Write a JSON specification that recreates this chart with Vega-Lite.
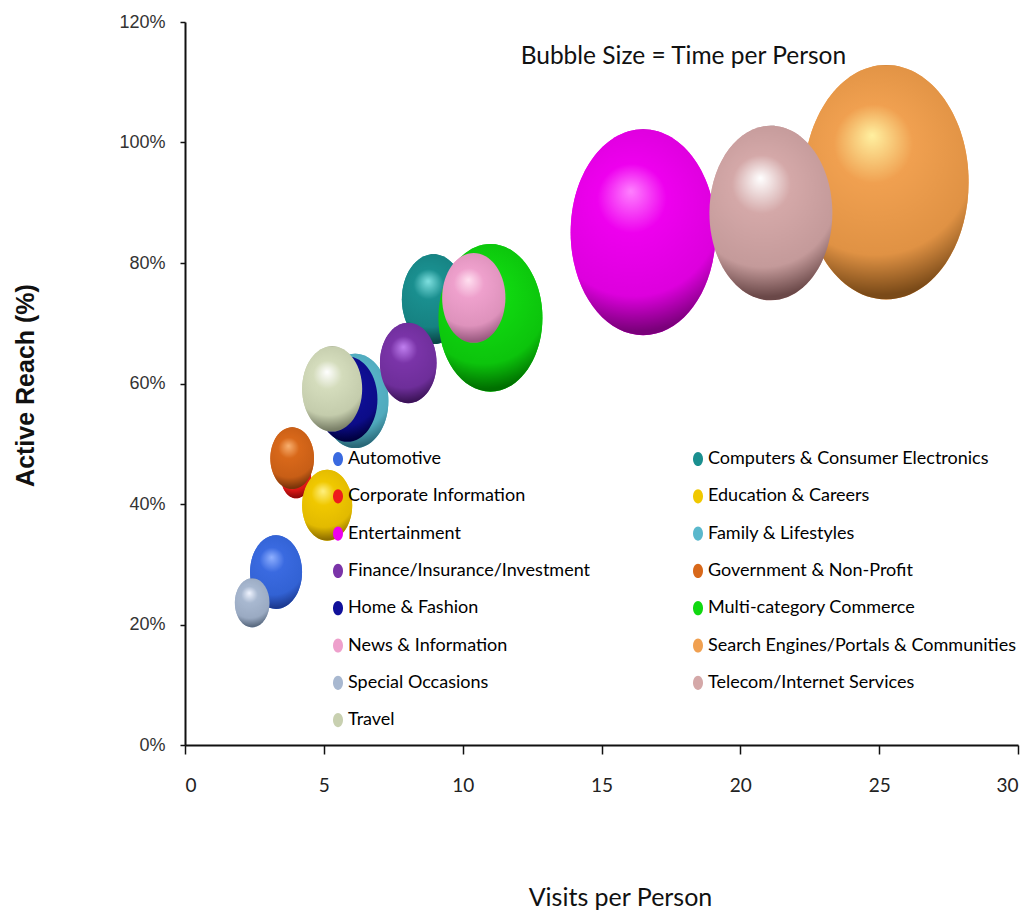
{
  "$schema": "https://vega.github.io/schema/vega-lite/v6.json",
  "width": 833,
  "height": 723,
  "autosize": {"type": "none"},
  "padding": {"left": 185, "top": 22, "right": 5, "bottom": 172},
  "background": "white",
  "config": {
    "view": {"stroke": null},
    "axis": {"grid": false, "domainColor": "#111", "domainWidth": 2, "tickColor": "#111", "tickWidth": 1.5},
    "point": {"filled": true, "opacity": 1, "strokeWidth": 0, "shape": "M0,-1.42A1,1.42,0,1,1,0,1.42A1,1.42,0,1,1,0,-1.42Z"}
  },
  "datasets": {
    "bubbles": [
      {"category": "Automotive", "visits": 3.28, "reach": 0.287, "time": 27},
      {"category": "Computers & Consumer Electronics", "visits": 8.95, "reach": 0.740, "time": 40},
      {"category": "Corporate Information", "visits": 4.0, "reach": 0.445, "time": 9},
      {"category": "Education & Careers", "visits": 5.12, "reach": 0.398, "time": 25},
      {"category": "Entertainment", "visits": 16.5, "reach": 0.851, "time": 210},
      {"category": "Family & Lifestyles", "visits": 6.13, "reach": 0.571, "time": 44},
      {"category": "Finance/Insurance/Investment", "visits": 8.04, "reach": 0.634, "time": 32},
      {"category": "Government & Non-Profit", "visits": 3.86, "reach": 0.476, "time": 19},
      {"category": "Home & Fashion", "visits": 5.85, "reach": 0.574, "time": 36},
      {"category": "Multi-category Commerce", "visits": 11.0, "reach": 0.709, "time": 108},
      {"category": "News & Information", "visits": 10.4, "reach": 0.742, "time": 40},
      {"category": "Search Engines/Portals & Communities", "visits": 25.25, "reach": 0.934, "time": 272},
      {"category": "Special Occasions", "visits": 2.42, "reach": 0.236, "time": 12},
      {"category": "Telecom/Internet Services", "visits": 21.1, "reach": 0.883, "time": 151},
      {"category": "Travel", "visits": 5.3, "reach": 0.591, "time": 36}
    ],
    "note": [
      {"label": "Bubble Size = Time per Person", "visits": 17.95, "reach": 1.13}
    ]
  },
  "layer": [
    {
      "data": {"name": "bubbles"},
      "encoding": {
        "x": {"field": "visits", "type": "quantitative",
              "scale": {"domain": [0, 30], "nice": false, "zero": true},
              "axis": {"values": [0, 5, 10, 15, 20, 25, 30], "title": "Visits per Person",
                       "labelFont": "Lato", "labelFontSize": 19, "labelColor": "#222",
                       "tickSize": 9, "labelPadding": 22,
                       "titleFont": "Lato", "titleFontSize": 25, "titleFontWeight": "normal", "titleColor": "#111",
                       "titleX": 435, "titleY": 160, "titleBaseline": "alphabetic", "titleAlign": "center"}},
        "y": {"field": "reach", "type": "quantitative",
              "scale": {"domain": [0, 1.2], "nice": false},
              "axis": {"values": [0, 0.2, 0.4, 0.6, 0.8, 1.0, 1.2], "format": ".0%", "title": "Active Reach (%)",
                       "labelFont": "Liberation Sans", "labelFontSize": 18, "labelColor": "#333",
                       "tickSize": 5, "labelPadding": 15,
                       "titleFont": "Liberation Sans", "titleFontSize": 25, "titleFontWeight": "bold", "titleColor": "#111",
                       "titleAngle": 270, "titleX": -160, "titleY": 363, "titleBaseline": "middle", "titleAlign": "center"}},
        "size": {"field": "time", "type": "quantitative", "scale": {"domain": [0, 272], "range": [0, 27225]}, "legend": null}
      },
      "layer": [
        {
          "mark": {"type": "point"},
          "encoding": {
            "color": {"field": "category", "type": "nominal",
                      "scale": {
                        "domain": ["Automotive", "Corporate Information", "Entertainment", "Finance/Insurance/Investment", "Home & Fashion", "News & Information", "Special Occasions", "Travel", "Computers & Consumer Electronics", "Education & Careers", "Family & Lifestyles", "Government & Non-Profit", "Multi-category Commerce", "Search Engines/Portals & Communities", "Telecom/Internet Services"],
                        "range": ["#3a6ae0", "#ee1c1c", "#ee00ee", "#7a34a8", "#10109a", "#eea0cc", "#a8b8d0", "#c8d0b0", "#1a8f8f", "#f0c800", "#5ab8cc", "#d8681a", "#10d810", "#f0a050", "#d4a8a8"]
                      },
                      "legend": {"orient": "none", "legendX": 144, "legendY": 428, "columns": 2, "columnPadding": 98, "rowPadding": 19.3,
                                 "title": null, "padding": 0, "labelFont": "Lato", "labelFontSize": 18, "labelColor": "#000",
                                 "labelOffset": 1, "symbolSize": 100, "symbolStrokeWidth": 0, "symbolOpacity": 1,
                                 "symbolType": "M0,-1.42A1,1.42,0,1,1,0,1.42A1,1.42,0,1,1,0,-1.42Z", "labelLimit": 400}}
          }
        },
        {"transform": [{"filter": "datum.category === 'Automotive'"}],
         "mark": {"type": "point", "fill": {"gradient": "radial", "x1": 0.44, "y1": 0.3, "r1": 0, "x2": 0.46, "y2": 0.42, "r2": 0.56, "stops": [{"offset": 0, "color": "#8fb0ff"}, {"offset": 0.3, "color": "#3a6ae0"}, {"offset": 0.75, "color": "#3262d4"}, {"offset": 1, "color": "#1c3a90"}]}}},
        {"transform": [{"filter": "datum.category === 'Computers & Consumer Electronics'"}],
         "mark": {"type": "point", "fill": {"gradient": "radial", "x1": 0.44, "y1": 0.3, "r1": 0, "x2": 0.46, "y2": 0.42, "r2": 0.56, "stops": [{"offset": 0, "color": "#7fe0e0"}, {"offset": 0.3, "color": "#1a8f8f"}, {"offset": 0.75, "color": "#168282"}, {"offset": 1, "color": "#0a4848"}]}}},
        {"transform": [{"filter": "datum.category === 'Corporate Information'"}],
         "mark": {"type": "point", "fill": {"gradient": "radial", "x1": 0.44, "y1": 0.3, "r1": 0, "x2": 0.46, "y2": 0.42, "r2": 0.56, "stops": [{"offset": 0, "color": "#ff8080"}, {"offset": 0.3, "color": "#ee1c1c"}, {"offset": 0.75, "color": "#dd1616"}, {"offset": 1, "color": "#900a0a"}]}}},
        {"transform": [{"filter": "datum.category === 'Education & Careers'"}],
         "mark": {"type": "point", "fill": {"gradient": "radial", "x1": 0.44, "y1": 0.3, "r1": 0, "x2": 0.46, "y2": 0.42, "r2": 0.56, "stops": [{"offset": 0, "color": "#fff080"}, {"offset": 0.3, "color": "#f0c800"}, {"offset": 0.75, "color": "#e2ba00"}, {"offset": 1, "color": "#907000"}]}}},
        {"transform": [{"filter": "datum.category === 'Entertainment'"}],
         "mark": {"type": "point", "fill": {"gradient": "radial", "x1": 0.44, "y1": 0.3, "r1": 0, "x2": 0.46, "y2": 0.42, "r2": 0.56, "stops": [{"offset": 0, "color": "#ff80ff"}, {"offset": 0.3, "color": "#ee00ee"}, {"offset": 0.75, "color": "#dd00dd"}, {"offset": 1, "color": "#7a007a"}]}}},
        {"transform": [{"filter": "datum.category === 'Family & Lifestyles'"}],
         "mark": {"type": "point", "fill": {"gradient": "radial", "x1": 0.44, "y1": 0.3, "r1": 0, "x2": 0.46, "y2": 0.42, "r2": 0.56, "stops": [{"offset": 0, "color": "#b0eaf5"}, {"offset": 0.3, "color": "#5ab8cc"}, {"offset": 0.75, "color": "#50aabd"}, {"offset": 1, "color": "#2a6878"}]}}},
        {"transform": [{"filter": "datum.category === 'Finance/Insurance/Investment'"}],
         "mark": {"type": "point", "fill": {"gradient": "radial", "x1": 0.44, "y1": 0.3, "r1": 0, "x2": 0.46, "y2": 0.42, "r2": 0.56, "stops": [{"offset": 0, "color": "#c080f0"}, {"offset": 0.3, "color": "#7a34a8"}, {"offset": 0.75, "color": "#6e2e9a"}, {"offset": 1, "color": "#3c1458"}]}}},
        {"transform": [{"filter": "datum.category === 'Government & Non-Profit'"}],
         "mark": {"type": "point", "fill": {"gradient": "radial", "x1": 0.44, "y1": 0.3, "r1": 0, "x2": 0.46, "y2": 0.42, "r2": 0.56, "stops": [{"offset": 0, "color": "#f8b070"}, {"offset": 0.3, "color": "#d8681a"}, {"offset": 0.75, "color": "#c85e16"}, {"offset": 1, "color": "#7a340a"}]}}},
        {"transform": [{"filter": "datum.category === 'Home & Fashion'"}],
         "mark": {"type": "point", "fill": {"gradient": "radial", "x1": 0.44, "y1": 0.3, "r1": 0, "x2": 0.46, "y2": 0.42, "r2": 0.56, "stops": [{"offset": 0, "color": "#4848e0"}, {"offset": 0.3, "color": "#10109a"}, {"offset": 0.75, "color": "#0c0c88"}, {"offset": 1, "color": "#000040"}]}}},
        {"transform": [{"filter": "datum.category === 'Multi-category Commerce'"}],
         "mark": {"type": "point", "fill": {"gradient": "radial", "x1": 0.44, "y1": 0.3, "r1": 0, "x2": 0.46, "y2": 0.42, "r2": 0.56, "stops": [{"offset": 0, "color": "#80ff80"}, {"offset": 0.3, "color": "#10d810"}, {"offset": 0.75, "color": "#0cc40c"}, {"offset": 1, "color": "#007000"}]}}},
        {"transform": [{"filter": "datum.category === 'News & Information'"}],
         "mark": {"type": "point", "fill": {"gradient": "radial", "x1": 0.44, "y1": 0.3, "r1": 0, "x2": 0.46, "y2": 0.42, "r2": 0.56, "stops": [{"offset": 0, "color": "#ffe0f0"}, {"offset": 0.3, "color": "#eea0cc"}, {"offset": 0.75, "color": "#de92bc"}, {"offset": 1, "color": "#9a5a80"}]}}},
        {"transform": [{"filter": "datum.category === 'Search Engines/Portals & Communities'"}],
         "mark": {"type": "point", "fill": {"gradient": "radial", "x1": 0.44, "y1": 0.3, "r1": 0, "x2": 0.46, "y2": 0.42, "r2": 0.56, "stops": [{"offset": 0, "color": "#fff0a0"}, {"offset": 0.3, "color": "#f0a050"}, {"offset": 0.75, "color": "#e09244"}, {"offset": 1, "color": "#7a4a18"}]}}},
        {"transform": [{"filter": "datum.category === 'Special Occasions'"}],
         "mark": {"type": "point", "fill": {"gradient": "radial", "x1": 0.44, "y1": 0.3, "r1": 0, "x2": 0.46, "y2": 0.42, "r2": 0.56, "stops": [{"offset": 0, "color": "#f0f4ff"}, {"offset": 0.3, "color": "#a8b8d0"}, {"offset": 0.75, "color": "#9aaac2"}, {"offset": 1, "color": "#5a6a80"}]}}},
        {"transform": [{"filter": "datum.category === 'Telecom/Internet Services'"}],
         "mark": {"type": "point", "fill": {"gradient": "radial", "x1": 0.44, "y1": 0.3, "r1": 0, "x2": 0.46, "y2": 0.42, "r2": 0.56, "stops": [{"offset": 0, "color": "#ffffff"}, {"offset": 0.3, "color": "#d4a8a8"}, {"offset": 0.75, "color": "#c49a9a"}, {"offset": 1, "color": "#6a4848"}]}}},
        {"transform": [{"filter": "datum.category === 'Travel'"}],
         "mark": {"type": "point", "fill": {"gradient": "radial", "x1": 0.44, "y1": 0.3, "r1": 0, "x2": 0.46, "y2": 0.42, "r2": 0.56, "stops": [{"offset": 0, "color": "#ffffff"}, {"offset": 0.3, "color": "#d4dcbc"}, {"offset": 0.75, "color": "#c4ccac"}, {"offset": 1, "color": "#7a8068"}]}}}
      ]
    },
    {
      "data": {"name": "note"},
      "mark": {"type": "text", "font": "Lato", "fontSize": 24.5, "color": "#111", "align": "center", "baseline": "alphabetic"},
      "encoding": {
        "x": {"field": "visits", "type": "quantitative"},
        "y": {"field": "reach", "type": "quantitative"},
        "text": {"field": "label", "type": "nominal"}
      }
    }
  ]
}
